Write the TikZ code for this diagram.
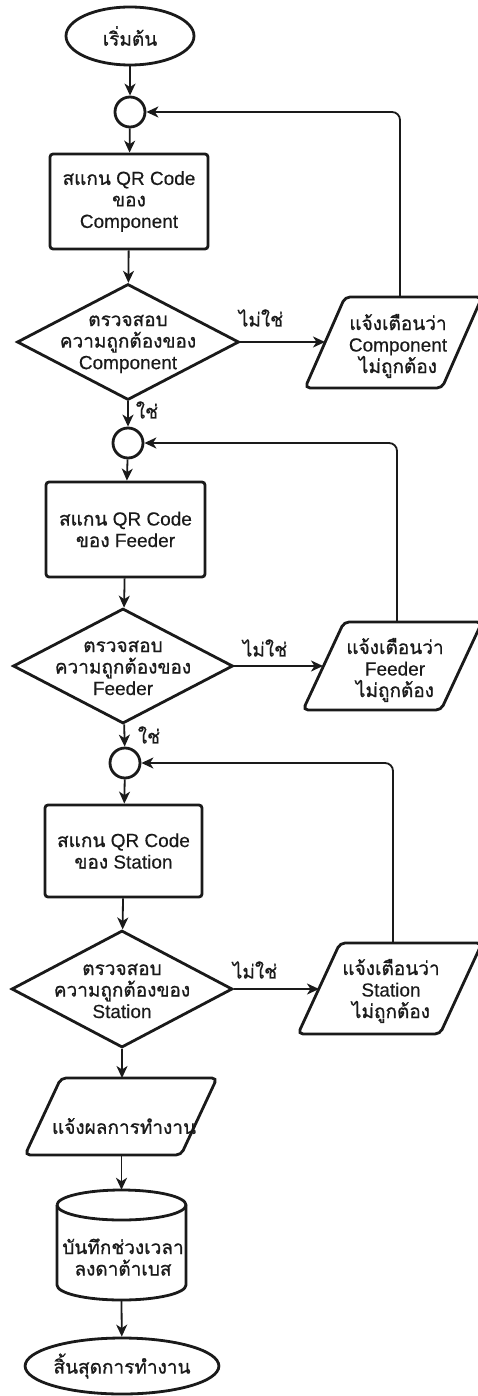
\documentclass[tikz,border=0pt]{standalone}
\usepackage{fontspec}
\setmainfont{Liberation Sans}[FakeBold=0.3]
\newfontfamily\thaifont[Script=Thai, FakeBold=0.8]{Loma}
\usetikzlibrary{shapes.geometric, arrows.meta}
\definecolor{ink}{HTML}{1A1A1A}

\tikzset{
  shp/.style={draw=ink, line width=2.8pt},
  conn/.style={draw=ink, line width=1.8pt},
  arr/.style={conn, -{Stealth[length=12pt,width=11pt,inset=3.5pt]}},
  txt/.style={align=center, font=\fontsize{19}{21.5}\selectfont, inner sep=0pt, text=ink},
  procbox/.style={shp, txt, rectangle, rounded corners=3pt},
  junction/.style={shp, circle, minimum size=30pt, inner sep=0pt},
  decision/.style={shp, diamond, inner sep=0pt},
  iopath/.style={shp, rounded corners=5pt},
  terminal/.style={shp, txt, ellipse},
}

\begin{document}
\begin{tikzpicture}[x=1pt, y=1pt]
\useasboundingbox[fill=white] (0,0) rectangle (478,-1396);

% start and first scan stage
\node[terminal, minimum width=128pt, minimum height=58pt] (start) at (130,-36) {\thaifont เริ่มต้น};
\node[junction] (c1) at (130,-112) {};
\node[procbox, minimum width=158pt, minimum height=95pt] (p1) at (129,-201.5)
  {{\thaifont สแกน} QR Code\\{\thaifont ของ}\\Component};
\node[decision, minimum width=222pt, minimum height=116pt] (d1) at (128,-342) {};
\node[txt] (d1t) at (128,-344) {{\thaifont ตรวจสอบ}\\{\thaifont ความถูกต้องของ}\\Component};
\draw[iopath] (305,-388) -- (442,-388) -- (482,-297) -- (345,-297) -- cycle;
\node[txt] (w1) at (398,-346) {{\thaifont แจ้งเตือนว่า}\\Component\\{\thaifont ไม่ถูกต้อง}};
\coordinate (w1in) at (325,-342);
\coordinate (w1top) at (400,-297);
\node[txt] (no1) at (261,-318) {\thaifont ไม่ใช่};
\node[txt] (yes1) at (147,-410) {\thaifont ใช่};

% second scan stage
\node[junction] (c2) at (128,-443) {};
\node[procbox, minimum width=159pt, minimum height=95pt] (p2) at (125.5,-529.5)
  {{\thaifont สแกน} QR Code\\{\thaifont ของ} Feeder};
\node[decision, minimum width=220pt, minimum height=115pt] (d2) at (123,-666) {};
\node[txt] (d2t) at (123,-668) {{\thaifont ตรวจสอบ}\\{\thaifont ความถูกต้องของ}\\Feeder};
\draw[iopath] (303,-710) -- (441,-710) -- (482,-622) -- (344,-622) -- cycle;
\node[txt] (w2) at (395,-670) {{\thaifont แจ้งเตือนว่า}\\Feeder\\{\thaifont ไม่ถูกต้อง}};
\coordinate (w2in) at (323,-666);
\coordinate (w2top) at (397,-622);
\node[txt] (no2) at (265,-648) {\thaifont ไม่ใช่};
\node[txt] (yes2) at (149,-735) {\thaifont ใช่};

% third scan stage
\node[junction] (c3) at (125,-763) {};
\node[procbox, minimum width=157pt, minimum height=92pt] (p3) at (123.5,-851)
  {{\thaifont สแกน} QR Code\\{\thaifont ของ} Station};
\node[decision, minimum width=221pt, minimum height=117pt] (d3) at (122,-989) {};
\node[txt] (d3t) at (122,-991) {{\thaifont ตรวจสอบ}\\{\thaifont ความถูกต้องของ}\\Station};
\draw[iopath] (298,-1034) -- (440,-1034) -- (482,-943) -- (340,-943) -- cycle;
\node[txt] (w3) at (391,-991) {{\thaifont แจ้งเตือนว่า}\\Station\\{\thaifont ไม่ถูกต้อง}};
\coordinate (w3in) at (319,-989);
\coordinate (w3top) at (393,-943);
\node[txt] (no3) at (255,-970) {\thaifont ไม่ใช่};

% result output
\draw[iopath] (25,-1155) -- (181,-1155) -- (217,-1078) -- (61,-1078) -- cycle;
\node[txt] (out) at (124,-1126) {\thaifont แจ้งผลการทำงาน};
\coordinate (outtop) at (122,-1078);
\coordinate (outbot) at (121.5,-1155);

% database cylinder
\node[minimum width=129pt, minimum height=110pt, inner sep=0pt] (db) at (121.5,-1245) {};
\draw[shp] (57,-1205) -- (57,-1285)
  arc[start angle=180, end angle=360, x radius=64.5pt, y radius=15pt]
  -- (186,-1205)
  arc[start angle=0, end angle=180, x radius=64.5pt, y radius=15pt];
\draw[shp] (57,-1205) arc[start angle=180, end angle=360, x radius=64.5pt, y radius=15pt];
\node[txt] (dbt) at (123,-1257) {{\thaifont บันทึกช่วงเวลา}\\{\thaifont ลงดาต้าเบส}};

\node[terminal, minimum width=159pt, minimum height=56pt] (end) at (122,-1366) {\thaifont สิ้นสุดการทำงาน};

% main flow
\draw[arr] (start) -- (c1);
\draw[arr] (c1) -- (p1);
\draw[arr] (p1) -- (d1);
\draw[arr] (d1) -- (c2);
\draw[arr] (c2) -- (p2);
\draw[arr] (p2) -- (d2);
\draw[arr] (d2) -- (c3);
\draw[arr] (c3) -- (p3);
\draw[arr] (p3) -- (d3);
\draw[arr] (d3.south) -- (outtop);
\draw[arr] (outbot) -- (db.north);
\draw[arr] (db.south) -- (end);

% rejected branches
\draw[arr] (d1.east) -- (w1in);
\draw[arr] (d2.east) -- (w2in);
\draw[arr] (d3.east) -- (w3in);

% loops back to the junctions
\draw[arr, rounded corners=8pt] (w1top) |- (c1.east);
\draw[arr, rounded corners=8pt] (w2top) |- (c2.east);
\draw[arr, rounded corners=8pt] (w3top) |- (c3.east);
\end{tikzpicture}
\end{document}
